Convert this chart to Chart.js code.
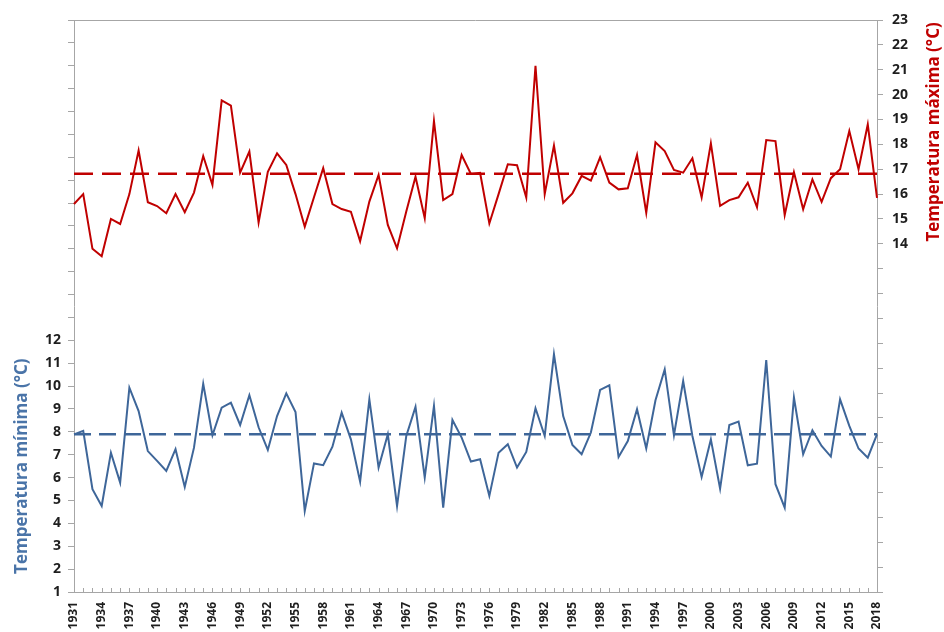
<!DOCTYPE html>
<html>
<head>
<meta charset="utf-8">
<script src="https://cdn.jsdelivr.net/npm/chart.js@4.4.1/dist/chart.umd.min.js"></script>
<style>
html,body{margin:0;padding:0;background:#fff;}
#wrap{width:944px;height:632px;position:relative;}
</style>
</head>
<body>
<div id="wrap"><canvas id="c"></canvas></div>
<script>
const years = [1931,1932,1933,1934,1935,1936,1937,1938,1939,1940,1941,1942,1943,1944,1945,1946,1947,1948,1949,1950,1951,1952,1953,1954,1955,1956,1957,1958,1959,1960,1961,1962,1963,1964,1965,1966,1967,1968,1969,1970,1971,1972,1973,1974,1975,1976,1977,1978,1979,1980,1981,1982,1983,1984,1985,1986,1987,1988,1989,1990,1991,1992,1993,1994,1995,1996,1997,1998,1999,2000,2001,2002,2003,2004,2005,2006,2007,2008,2009,2010,2011,2012,2013,2014,2015,2016,2017,2018];

const tMax = [15.6,16.0,13.8,13.5,15.0,14.8,16.0,17.75,15.67,15.52,15.23,16.0,15.27,16.06,17.53,16.37,19.77,19.56,16.86,17.71,14.86,16.9,17.64,17.17,16.0,14.69,15.87,17.04,15.6,15.4,15.29,14.11,15.7,16.77,14.76,13.82,15.3,16.7,15.03,18.94,15.76,16.0,17.57,16.81,16.85,14.82,16.0,17.2,17.16,15.86,21.16,16.0,17.95,15.65,16.03,16.73,16.54,17.48,16.46,16.19,16.23,17.57,15.25,18.08,17.73,16.97,16.86,17.44,15.86,18.04,15.53,15.76,15.87,16.46,15.47,18.17,18.13,15.16,16.88,15.39,16.59,15.69,16.64,17.0,18.54,17.0,18.8,15.85];

const tMin = [7.89,8.04,5.49,4.76,7.09,5.78,9.93,8.91,7.16,6.73,6.29,7.24,5.59,7.31,10.1,7.85,9.06,9.28,8.3,9.6,8.2,7.21,8.69,9.68,8.87,4.54,6.62,6.54,7.35,8.84,7.67,5.82,9.42,6.44,7.89,4.76,7.82,9.09,6.0,9.13,4.69,8.52,7.75,6.7,6.8,5.2,7.09,7.46,6.44,7.12,9.03,7.82,11.39,8.69,7.43,7.02,7.97,9.83,10.03,6.9,7.6,8.99,7.27,9.38,10.73,7.85,10.22,7.82,6.03,7.67,5.52,8.3,8.45,6.54,6.61,11.14,5.71,4.69,9.5,7.02,8.07,7.38,6.92,9.42,8.26,7.27,6.87,7.89];

const meanMax = 16.82;
const meanMin = 7.89;

const leftTicksShown = [1,2,3,4,5,6,7,8,9,10,11,12];
const rightTicksShown = [14,15,16,17,18,19,20,21,22,23];

const leftTitle = 'Temperatura mínima (°C)';
const rightTitle = 'Temperatura máxima (°C)';

const RED = '#c00000';
const BLUE = '#3e6699';
const BLUE_T = '#4a74a8';
const GRID = '#a6a6a6';
const TXT = '#1e1e1e';

const tickFont = {family:'"Open Sans", sans-serif', size:14, weight:'bold'};
const xFont = {family:'"Open Sans", sans-serif', size:12, weight:'bold'};

const frame = {
  id:'frame',
  afterDraw(chart){
    const {ctx, chartArea:a} = chart;
    ctx.save();
    ctx.strokeStyle = GRID;
    ctx.lineWidth = 1;
    ctx.beginPath();
    ctx.moveTo(a.left, a.top+0.5);
    ctx.lineTo(a.right, a.top+0.5);
    // inside tick marks on the x axis
    const xs = chart.scales.x;
    for (let i = 0; i < xs.ticks.length; i++) {
      const px = Math.round(xs.getPixelForTick(i)) + 0.5;
      ctx.moveTo(px, a.bottom);
      ctx.lineTo(px, a.bottom - 4);
    }
    ctx.stroke();
    // axis titles
    ctx.font = 'bold 17px "Open Sans", sans-serif';
    ctx.textAlign = 'center';
    ctx.textBaseline = 'middle';
    const yl = chart.scales.yMin;
    const yr = chart.scales.yMax;
    const lc = (yl.getPixelForValue(leftTicksShown[0]) + yl.getPixelForValue(leftTicksShown[leftTicksShown.length-1]))/2;
    const rc = (yr.getPixelForValue(rightTicksShown[0]) + yr.getPixelForValue(rightTicksShown[rightTicksShown.length-1]))/2;
    ctx.fillStyle = BLUE_T;
    ctx.translate(22, lc);
    ctx.rotate(-Math.PI/2);
    ctx.fillText(leftTitle, 0, 0);
    ctx.setTransform(chart.currentDevicePixelRatio,0,0,chart.currentDevicePixelRatio,0,0);
    ctx.fillStyle = RED;
    ctx.translate(934, rc);
    ctx.rotate(-Math.PI/2);
    ctx.fillText(rightTitle, 0, 0);
    ctx.restore();
  }
};

new Chart(document.getElementById('c'), {
  type:'line',
  data:{
    labels: years,
    datasets:[
      {label:'max', data:tMax, yAxisID:'yMax', borderColor:RED, borderWidth:2, pointRadius:0, tension:0},
      {label:'maxMean', data:years.map(()=>meanMax), yAxisID:'yMax', borderColor:RED, borderWidth:2.5, borderDash:[19,9], pointRadius:0},
      {label:'min', data:tMin, yAxisID:'yMin', borderColor:BLUE, borderWidth:2, pointRadius:0, tension:0},
      {label:'minMean', data:years.map(()=>meanMin), yAxisID:'yMin', borderColor:BLUE, borderWidth:2.5, borderDash:[17,8], pointRadius:0}
    ]
  },
  options:{
    responsive:true,
    maintainAspectRatio:false,
    animation:false,
    layout:{padding:{top:20,left:0,right:0,bottom:0}},
    plugins:{legend:{display:false}, tooltip:{enabled:false}},
    scales:{
      x:{
        type:'category',
        offset:false,
        grid:{display:true, drawOnChartArea:false, drawTicks:false, color:GRID},
        border:{display:true, color:GRID, width:1},
        ticks:{
          autoSkip:false, maxRotation:90, minRotation:90, padding:10, color:TXT, font:xFont,
          callback:function(v, i){ return (i % 3 === 0) ? String(years[i]) : ''; }
        },
        afterFit(s){ s.height = 40; }
      },
      yMin:{
        type:'linear', position:'left', min:1, max:26,
        grid:{display:true, drawOnChartArea:false, drawTicks:true, tickLength:6, color:GRID},
        border:{display:true, color:GRID, width:1},
        ticks:{stepSize:1, autoSkip:false, padding:7, color:TXT, font:tickFont,
          callback:(v)=> leftTicksShown.includes(v) ? String(v) : ''},
        afterFit(s){ s.width = 74; }
      },
      yMax:{
        type:'linear', position:'right', min:0, max:23,
        grid:{display:true, drawOnChartArea:false, drawTicks:true, tickLength:6, color:GRID},
        border:{display:true, color:GRID, width:1},
        ticks:{stepSize:1, autoSkip:false, padding:9, color:TXT, font:tickFont,
          callback:(v)=> rightTicksShown.includes(v) ? String(v) : ''},
        afterFit(s){ s.width = 67; }
      }
    }
  },
  plugins:[frame]
});
</script>
</body>
</html>
